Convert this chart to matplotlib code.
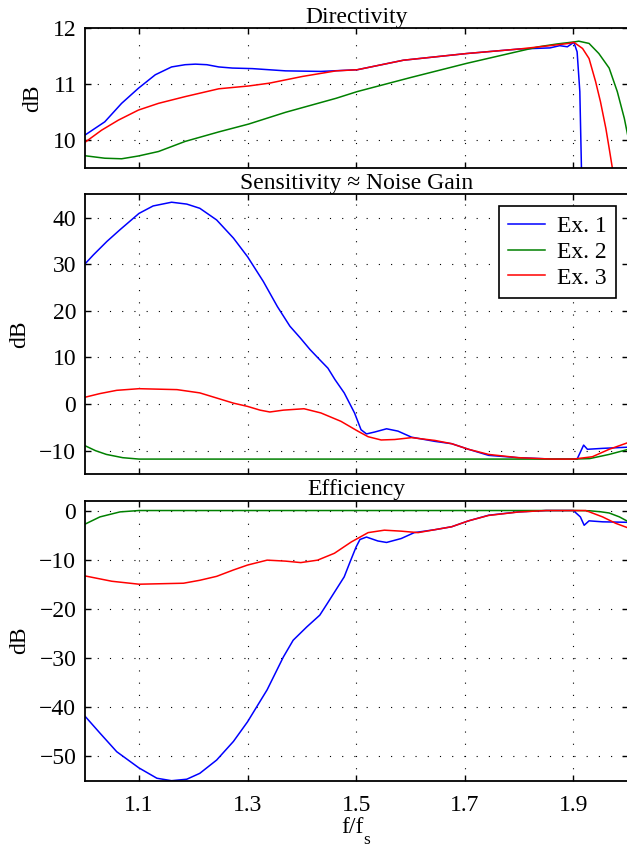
import numpy as np
import matplotlib
matplotlib.use("Agg")
import matplotlib.pyplot as plt

plt.rcParams['font.family'] = ['Liberation Serif', 'DejaVu Serif']
plt.rcParams['font.size'] = 17

# --- data ---
labels = ['Ex. 1', 'Ex. 2', 'Ex. 3']
colors = ['#0000ff', '#008000', '#ff0000']

# Directivity
dir_f1 = [1.0, 1.037, 1.068, 1.099, 1.13, 1.16, 1.185, 1.204, 1.225, 1.247, 1.272, 1.309, 1.37,
          1.435, 1.502, 1.587, 1.704, 1.8, 1.857, 1.875, 1.889, 1.898, 1.901, 1.907, 1.912, 1.915,
          1.918, 2.0]
dir_v1 = [10.09, 10.33, 10.66, 10.93, 11.17, 11.31, 11.35, 11.36, 11.35, 11.31, 11.29, 11.28, 11.24,
          11.23, 11.26, 11.43, 11.55, 11.63, 11.65, 11.69, 11.67, 11.73, 11.75, 11.58, 10.87, 9.5,
          8.5, 5.0]
dir_f2 = [1.0, 1.037, 1.068, 1.099, 1.136, 1.185, 1.247, 1.302, 1.37, 1.463, 1.502, 1.6, 1.704,
          1.8, 1.836, 1.87, 1.904, 1.91, 1.929, 1.947, 1.966, 1.981, 1.994, 2.0]
dir_v2 = [9.725, 9.68, 9.67, 9.72, 9.8, 9.98, 10.15, 10.29, 10.5, 10.75, 10.87, 11.12, 11.375,
          11.59, 11.67, 11.72, 11.76, 11.77, 11.73, 11.55, 11.29, 10.87, 10.39, 10.1]
dir_f3 = [1.0, 1.031, 1.062, 1.099, 1.136, 1.185, 1.247, 1.302, 1.34, 1.401, 1.463, 1.502, 1.587,
          1.704, 1.8, 1.857, 1.892, 1.901, 1.917, 1.929, 1.941, 1.95, 1.96, 1.966, 1.972, 1.985, 2.0]
dir_v3 = [9.96, 10.18, 10.36, 10.54, 10.66, 10.78, 10.92, 10.97, 11.02, 11.14, 11.24, 11.26, 11.43,
          11.55, 11.63, 11.69, 11.73, 11.75, 11.64, 11.46, 11.05, 10.69, 10.21, 9.86, 9.5, 8.8, 8.0]

# Sensitivity ~ noise gain
sen_f1 = [1.0, 1.016, 1.041, 1.065, 1.1, 1.126, 1.16, 1.188, 1.212, 1.243, 1.274, 1.3, 1.329,
          1.355, 1.378, 1.397, 1.415, 1.433, 1.448, 1.461, 1.478, 1.497, 1.509, 1.519, 1.534,
          1.556, 1.577, 1.602, 1.645, 1.676, 1.707, 1.744, 1.799, 1.861, 1.907, 1.919, 1.926,
          1.954, 2.0]
sen_v1 = [30.0, 32.0, 34.9, 37.4, 40.9, 42.5, 43.3, 42.9, 42.0, 39.5, 35.6, 31.6, 26.3,
          20.9, 16.7, 14.2, 11.7, 9.5, 7.7, 5.25, 2.4, -1.9, -5.5, -6.4, -6.0,
          -5.3, -5.8, -7.1, -8.0, -8.5, -9.7, -11.0, -11.5, -11.8, -11.8, -8.8, -9.7,
          -9.5, -9.25]
sen_f2 = [1.0, 1.02, 1.04, 1.07, 1.1, 1.9, 1.93, 1.966, 2.0]
sen_v2 = [-8.9, -10.0, -10.8, -11.5, -11.8, -11.8, -11.7, -10.8, -9.75]
sen_f3 = [1.0, 1.028, 1.059, 1.1, 1.17, 1.212, 1.243, 1.274, 1.3, 1.323, 1.341, 1.366, 1.404,
          1.435, 1.472, 1.503, 1.522, 1.546, 1.571, 1.602, 1.645, 1.676, 1.707, 1.744, 1.799,
          1.861, 1.9, 1.935, 1.966, 2.0]
sen_v3 = [1.45, 2.25, 2.95, 3.3, 3.1, 2.4, 1.3, 0.2, -0.5, -1.3, -1.7, -1.3, -1.0,
          -1.9, -3.7, -5.8, -7.0, -7.7, -7.6, -7.2, -7.8, -8.5, -9.7, -10.8, -11.5,
          -11.8, -11.8, -11.3, -9.7, -8.3]

# Efficiency
eff_f1 = [1.0, 1.028, 1.059, 1.1, 1.133, 1.16, 1.188, 1.212, 1.243, 1.274, 1.3, 1.336, 1.366,
          1.384, 1.409, 1.433, 1.447, 1.478, 1.489, 1.5, 1.507, 1.519, 1.54, 1.556, 1.583, 1.607,
          1.645, 1.676, 1.707, 1.744, 1.799, 1.85, 1.9, 1.913, 1.92, 1.929, 1.954, 2.0]
eff_v1 = [-41.8, -45.3, -49.1, -52.4, -54.5, -55.0, -54.7, -53.5, -50.8, -47.0, -43.0, -36.5, -29.8,
          -26.4, -23.7, -21.3, -18.9, -13.5, -10.4, -7.4, -5.9, -5.4, -6.2, -6.5, -5.7, -4.5,
          -3.9, -3.3, -2.1, -0.96, -0.28, 0.0, 0.0, -1.3, -3.0, -2.1, -2.3, -2.4]
eff_f2 = [1.0, 1.028, 1.065, 1.1, 1.9, 1.93, 1.95, 1.966, 1.985, 2.0]
eff_v2 = [-2.8, -1.3, -0.28, 0.0, 0.0, -0.05, -0.25, -0.5, -1.3, -2.2]
eff_f3 = [1.0, 1.05, 1.1, 1.182, 1.212, 1.243, 1.274, 1.3, 1.336, 1.37, 1.398, 1.429, 1.46, 1.491,
          1.522, 1.552, 1.583, 1.614, 1.645, 1.676, 1.707, 1.744, 1.799, 1.85, 1.923, 1.954,
          1.978, 2.0]
eff_v3 = [-13.3, -14.4, -15.0, -14.8, -14.2, -13.4, -12.1, -11.1, -10.1, -10.3, -10.6, -10.1, -8.7,
          -6.4, -4.5, -4.0, -4.2, -4.5, -3.9, -3.3, -2.1, -1.0, -0.3, 0.0, 0.0, -1.3,
          -2.6, -3.5]

xticks = [1.1, 1.3, 1.5, 1.7, 1.9]

panels = [
    ('Directivity', [(dir_f1, dir_v1), (dir_f2, dir_v2), (dir_f3, dir_v3)], (9.5, 12), [10, 11, 12]),
    ('Sensitivity \u2248 Noise Gain', [(sen_f1, sen_v1), (sen_f2, sen_v2), (sen_f3, sen_v3)],
     (-15, 45), [-10, 0, 10, 20, 30, 40]),
    ('Efficiency', [(eff_f1, eff_v1), (eff_f2, eff_v2), (eff_f3, eff_v3)], (-55, 2),
     [-50, -40, -30, -20, -10, 0]),
]

W, H = 627, 849
fig = plt.figure(figsize=(W / 100, H / 100), dpi=100)

# axes boxes in pixels: (top, bottom)
boxes = [(28.3, 168.3), (194.3, 474.0), (500.7, 780.7)]
left_px, right_px = 84.7, 627.6

axes = []
for (title, series, ylim, yt), (tp, bp) in zip(panels, boxes):
    ax = fig.add_axes([left_px / W, 1 - bp / H, (right_px - left_px) / W, (bp - tp) / H])
    for (f, v), c, lab in zip(series, colors, labels):
        ax.plot(f, v, color=c, lw=1.1, label=lab)
    ax.set_xlim(1.0, 2.0)
    ax.set_ylim(*ylim)
    ax.set_xticks(xticks)
    ax.set_yticks(yt)
    ax.set_title(title, pad=4, fontsize=17)
    ax.set_ylabel('dB', labelpad=7)
    ax.grid(True, color='black', linestyle=(0, (1, 10)), linewidth=0.8)
    ax.tick_params(direction='in', top=True, right=True, length=4, width=1.0)
    ax.tick_params(axis='x', pad=10)
    ax.tick_params(axis='y', pad=6)
    for s in ax.spines.values():
        s.set_linewidth(1.3)
    axes.append(ax)

axes[0].tick_params(labelbottom=False)
axes[1].tick_params(labelbottom=False)
axes[2].set_xticklabels([f'{t:.1f}' for t in xticks])

# x label "f/f" with a low-set subscript "s", as in the MATLAB export
ax = axes[2]
ax.set_xlabel('f/f')
ax.xaxis.set_label_coords(0.494, -0.128)
ax.text(0.519, -0.226, 's', transform=ax.transAxes, ha='center', va='baseline', fontsize=12.5)

leg = axes[1].legend(loc='upper right', fancybox=False, edgecolor='black', framealpha=1,
                     borderaxespad=0.5, labelspacing=0.18, handlelength=1.54,
                     handletextpad=0.5, borderpad=0.4)
leg.get_frame().set_linewidth(1.2)

fig.savefig('out.png', dpi=100)
